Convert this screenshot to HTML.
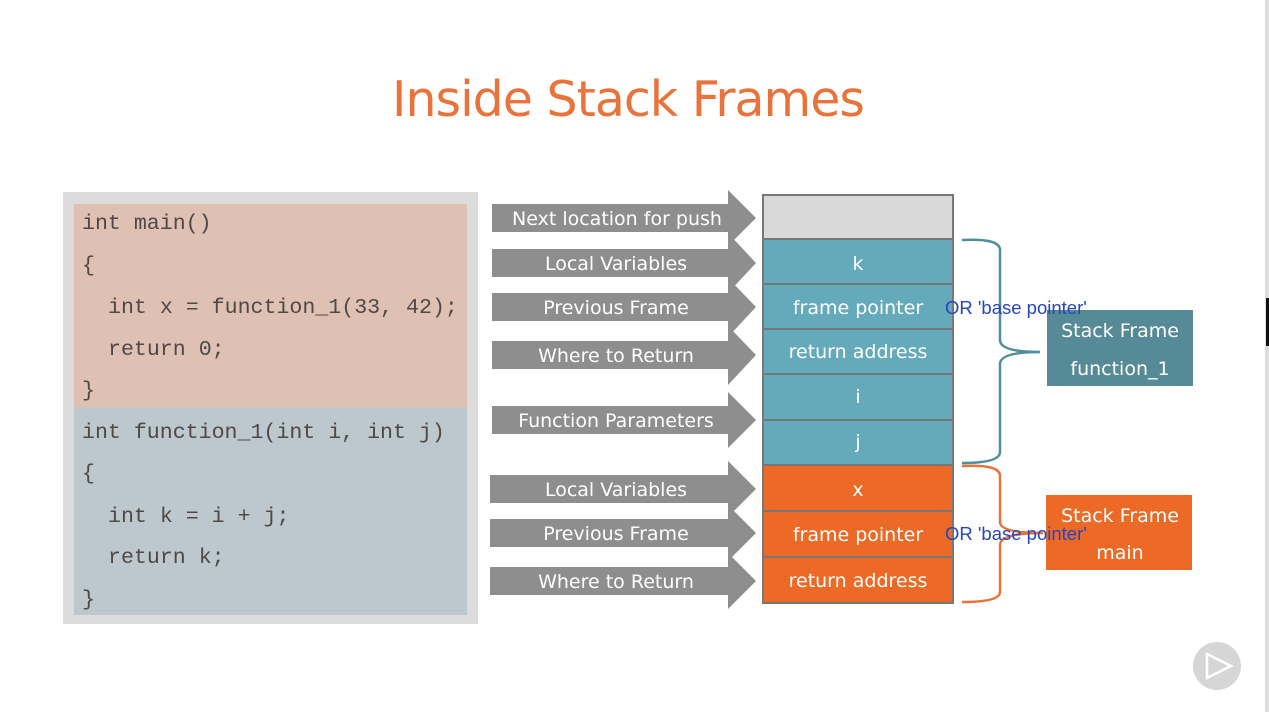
<!DOCTYPE html>
<html><head><meta charset="utf-8"><style>
html,body{margin:0;padding:0;background:#fff;width:1269px;height:712px;overflow:hidden}
svg{display:block}
.s{font-family:"DejaVu Sans","Liberation Sans",sans-serif;fill:#fff;font-size:19px;text-anchor:middle}
.c{font-family:"Liberation Mono",monospace;font-size:21.6px;fill:#4f4845}
.o{font-family:"Liberation Sans",sans-serif;font-size:18.5px;fill:#2546c0}
</style></head><body>
<svg width="1269" height="712" viewBox="0 0 1269 712">
<rect x="1265" y="0" width="4" height="712" fill="#ddd"/>
<rect x="1266" y="298" width="3" height="48" fill="#111"/>
<text x="628" y="116" font-family="DejaVu Sans,Liberation Sans,sans-serif" font-size="49" fill="#e8733b" text-anchor="middle" letter-spacing="-1">Inside Stack Frames</text>
<rect x="63" y="192" width="415" height="432" fill="#dcdcdc"/>
<rect x="74" y="204" width="393" height="203" fill="#dfc1b4"/>
<rect x="74" y="407" width="393" height="208" fill="#bcc8cd"/>
<g class="c">
<text x="82" y="229">int main()</text>
<text x="82" y="271">{</text>
<text x="108" y="313">int x = function_1(33, 42);</text>
<text x="108" y="355">return 0;</text>
<text x="82" y="396">}</text>
<text x="82" y="438">int function_1(int i, int j)</text>
<text x="82" y="479">{</text>
<text x="108" y="522">int k = i + j;</text>
<text x="108" y="563">return k;</text>
<text x="82" y="605">}</text>
</g>
<g fill="#8e8e8e">
<polygon points="492,204 728,204 728,190 756,218 728,246 728,232 492,232"/>
<polygon points="492,249 728,249 728,233 756,263 728,293 728,277 492,277"/>
<polygon points="492,293 728,293 728,278 756,307 728,337 728,321 492,321"/>
<polygon points="492,341 728,341 728,326 756,355 728,385 728,369 492,369"/>
<polygon points="492,406 728,406 728,392 756,420 728,448 728,434 492,434"/>
<polygon points="490,475 728,475 728,461 756,489 728,517 728,503 490,503"/>
<polygon points="490,519 728,519 728,505 756,533 728,561 728,547 490,547"/>
<polygon points="490,567 728,567 728,553 756,581 728,609 728,595 490,595"/>
</g>
<g class="s">
<text x="617" y="225">Next location for push</text>
<text x="616" y="270">Local Variables</text>
<text x="616" y="314">Previous Frame</text>
<text x="616" y="362">Where to Return</text>
<text x="616" y="427">Function Parameters</text>
<text x="616" y="496">Local Variables</text>
<text x="616" y="540">Previous Frame</text>
<text x="616" y="588">Where to Return</text>
</g>
<g stroke="#777" stroke-width="2">
<rect x="763" y="195" width="190" height="44" fill="#d9d9d9"/>
<rect x="763" y="239" width="190" height="45" fill="#65aabb"/>
<rect x="763" y="284" width="190" height="45" fill="#65aabb"/>
<rect x="763" y="329" width="190" height="45" fill="#65aabb"/>
<rect x="763" y="374" width="190" height="46" fill="#65aabb"/>
<rect x="763" y="420" width="190" height="45" fill="#65aabb"/>
<rect x="763" y="465" width="190" height="46" fill="#ec6a26"/>
<rect x="763" y="511" width="190" height="46" fill="#ec6a26"/>
<rect x="763" y="557" width="190" height="46" fill="#ec6a26"/>
</g>
<g class="s">
<text x="858" y="270">k</text>
<text x="858" y="314">frame pointer</text>
<text x="858" y="358">return address</text>
<text x="858" y="403">i</text>
<text x="858" y="448">j</text>
<text x="858" y="496">x</text>
<text x="858" y="541">frame pointer</text>
<text x="858" y="587">return address</text>
</g>
<path d="M962,240 Q1000,238 1000,250 L1000,340 Q1000,352 1040,352 Q1000,352 1000,364 L1000,452 Q1000,463 962,463" fill="none" stroke="#4f8e9c" stroke-width="2.5"/>
<path d="M962,466 Q1000,464 1000,476 L1000,522 Q1000,533 1043,533 Q1000,533 1000,545 L1000,592 Q1000,602 962,602" fill="none" stroke="#e8733b" stroke-width="2.5"/>
<rect x="1047" y="310" width="146" height="76" fill="#568a96"/>
<rect x="1046" y="495" width="146" height="75" fill="#ed6a26"/>
<g class="s">
<text x="1120" y="337">Stack Frame</text>
<text x="1120" y="375">function_1</text>
<text x="1120" y="522">Stack Frame</text>
<text x="1120" y="559">main</text>
</g>
<text class="o" x="945" y="314">OR 'base pointer'</text>
<text class="o" x="945" y="540">OR 'base pointer'</text>
<circle cx="1217" cy="666" r="24" fill="#d6d6d6"/>
<polygon points="1207,654 1231,666 1207,678" fill="none" stroke="#fff" stroke-width="2.5"/>
</svg>
</body></html>
